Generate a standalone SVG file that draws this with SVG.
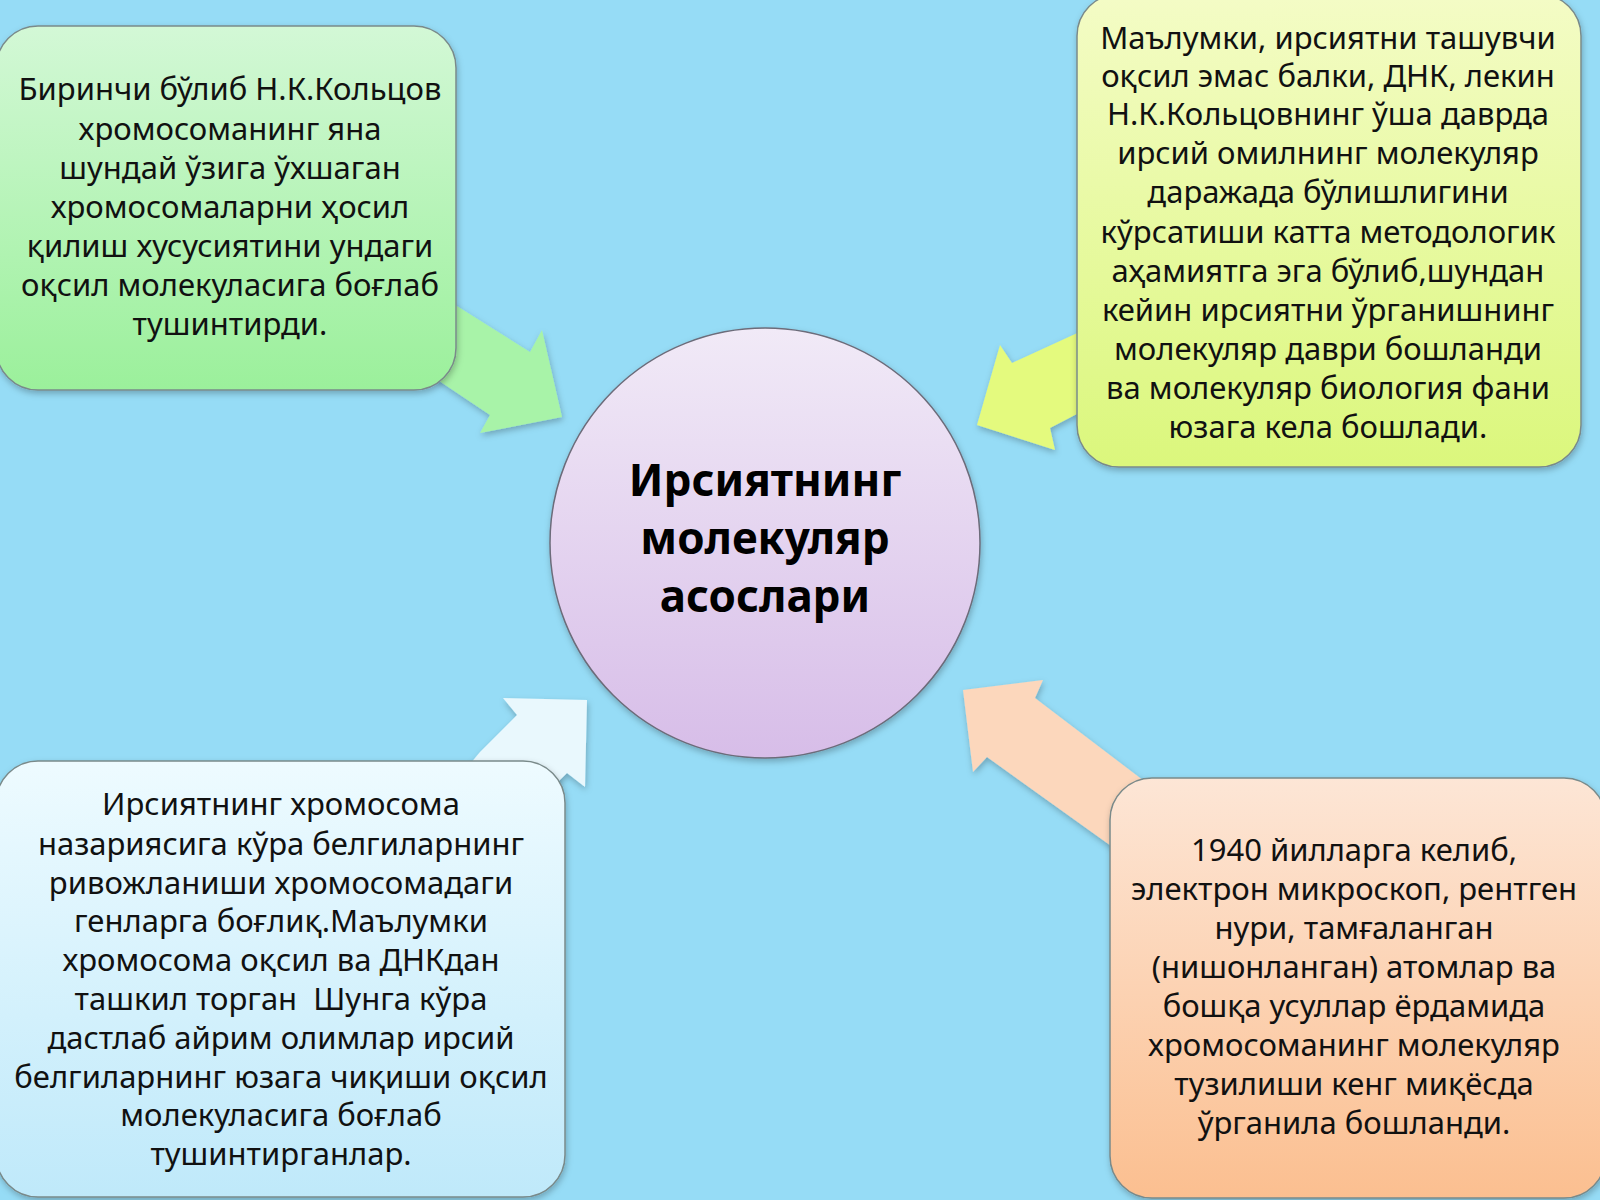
<svg xmlns="http://www.w3.org/2000/svg" width="1600" height="1200" viewBox="0 0 1600 1200">
<defs>
<linearGradient id="gGreen" x1="0" y1="0" x2="0" y2="1"><stop offset="0" stop-color="#d3f8d6"/><stop offset="1" stop-color="#9bf09b"/></linearGradient>
<linearGradient id="gYellow" x1="0" y1="0" x2="0" y2="1"><stop offset="0" stop-color="#f4fcc6"/><stop offset="1" stop-color="#dbf77c"/></linearGradient>
<linearGradient id="gBlue" x1="0" y1="0" x2="0" y2="1"><stop offset="0" stop-color="#eefbff"/><stop offset="1" stop-color="#bfe9fa"/></linearGradient>
<linearGradient id="gOrange" x1="0" y1="0" x2="0" y2="1"><stop offset="0" stop-color="#fde6d6"/><stop offset="1" stop-color="#fbbf90"/></linearGradient>
<linearGradient id="gCircle" x1="0" y1="0" x2="0" y2="1"><stop offset="0" stop-color="#f1eaf7"/><stop offset="1" stop-color="#d7bde8"/></linearGradient>
<filter id="sh" x="-10%" y="-10%" width="120%" height="120%"><feDropShadow dx="1" dy="3" stdDeviation="3" flood-color="#000" flood-opacity="0.25"/></filter>
<style>
.box{stroke:#7a8a8a;stroke-width:1.5;filter:url(#sh)}
.arr{filter:url(#sh)}
.t{font-family:"Noto Sans","DejaVu Sans",sans-serif;font-size:31px;fill:#111;text-anchor:middle}
.title{font-family:"Noto Sans","DejaVu Sans",sans-serif;font-size:44px;font-weight:bold;fill:#000;text-anchor:middle}
</style>
</defs>
<rect x="0" y="0" width="1600" height="1200" fill="#96dcf6"/>
<g id="connectors">
<polygon class="arr" fill="#a8f3a8" points="390,264 530,352 542,330 562,417 480,433 490,415 378,340"/>
<polygon class="arr" fill="#e4fa7e" points="1134,307 1012,363 1000,345 977,425 1055,450 1050,428 1150,376"/>
<polygon class="arr" fill="#e9f8fd" points="480,752 517,715 503,698 587,700 585,787 567,773 530,810 440,800"/>
<polygon class="arr" fill="#fcd7bc" points="1177,806 1035,698 1043,680 963,690 973,772 987,757 1167,886"/>
</g>
<g id="center">
<circle cx="765" cy="543" r="215" fill="url(#gCircle)" stroke="#6c6c7a" stroke-width="1.5" filter="url(#sh)"/>
<text class="title" x="765" y="496">Ирсиятнинг</text>
<text class="title" x="765" y="554">молекуляр</text>
<text class="title" x="765" y="612">асослари</text>
</g>
<g id="box-green">
<rect class="box" x="-4" y="26" width="460" height="364" rx="42" fill="url(#gGreen)"/>
<text class="t" x="230" y="100">Биринчи бўлиб Н.К.Кольцов</text>
<text class="t" x="230" y="140">хромосоманинг яна</text>
<text class="t" x="230" y="179">шундай ўзига ўхшаган</text>
<text class="t" x="230" y="218">хромосомаларни ҳосил</text>
<text class="t" x="230" y="257">қилиш хусусиятини ундаги</text>
<text class="t" x="230" y="296">оқсил молекуласига боғлаб</text>
<text class="t" x="230" y="335">тушинтирди.</text>
</g>
<g id="box-yellow">
<rect class="box" x="1077" y="-6" width="504" height="473" rx="42" fill="url(#gYellow)"/>
<text class="t" x="1328" y="49">Маълумки, ирсиятни ташувчи</text>
<text class="t" x="1328" y="87">оқсил эмас балки, ДНК, лекин</text>
<text class="t" x="1328" y="125">Н.К.Кольцовнинг ўша даврда</text>
<text class="t" x="1328" y="164">ирсий омилнинг молекуляр</text>
<text class="t" x="1328" y="203">даражада бўлишлигини</text>
<text class="t" x="1328" y="243">кўрсатиши катта методологик</text>
<text class="t" x="1328" y="282">аҳамиятга эга бўлиб,шундан</text>
<text class="t" x="1328" y="321">кейин ирсиятни ўрганишнинг</text>
<text class="t" x="1328" y="360">молекуляр даври бошланди</text>
<text class="t" x="1328" y="399">ва молекуляр биология фани</text>
<text class="t" x="1328" y="438">юзага кела бошлади.</text>
</g>
<g id="box-blue">
<rect class="box" x="-4" y="761" width="569" height="436" rx="42" fill="url(#gBlue)"/>
<text class="t" x="281" y="815">Ирсиятнинг хромосома</text>
<text class="t" x="281" y="855">назариясига кўра белгиларнинг</text>
<text class="t" x="281" y="894">ривожланиши хромосомадаги</text>
<text class="t" x="281" y="932">генларга боғлиқ.Маълумки</text>
<text class="t" x="281" y="971">хромосома оқсил ва ДНКдан</text>
<text class="t" x="281" y="1010">ташкил торган &#160;Шунга кўра</text>
<text class="t" x="281" y="1049">дастлаб айрим олимлар ирсий</text>
<text class="t" x="281" y="1088">белгиларнинг юзага чиқиши оқсил</text>
<text class="t" x="281" y="1126">молекуласига боғлаб</text>
<text class="t" x="281" y="1165">тушинтирганлар.</text>
</g>
<g id="box-orange">
<rect class="box" x="1110" y="778" width="496" height="420" rx="42" fill="url(#gOrange)"/>
<text class="t" x="1354" y="861">1940 йилларга келиб,</text>
<text class="t" x="1354" y="900">электрон микроскоп, рентген</text>
<text class="t" x="1354" y="939">нури, тамғаланган</text>
<text class="t" x="1354" y="978">(нишонланган) атомлар ва</text>
<text class="t" x="1354" y="1017">бошқа усуллар ёрдамида</text>
<text class="t" x="1354" y="1056">хромосоманинг молекуляр</text>
<text class="t" x="1354" y="1095">тузилиши кенг миқёсда</text>
<text class="t" x="1354" y="1134">ўрганила бошланди.</text>
</g>
</svg>
